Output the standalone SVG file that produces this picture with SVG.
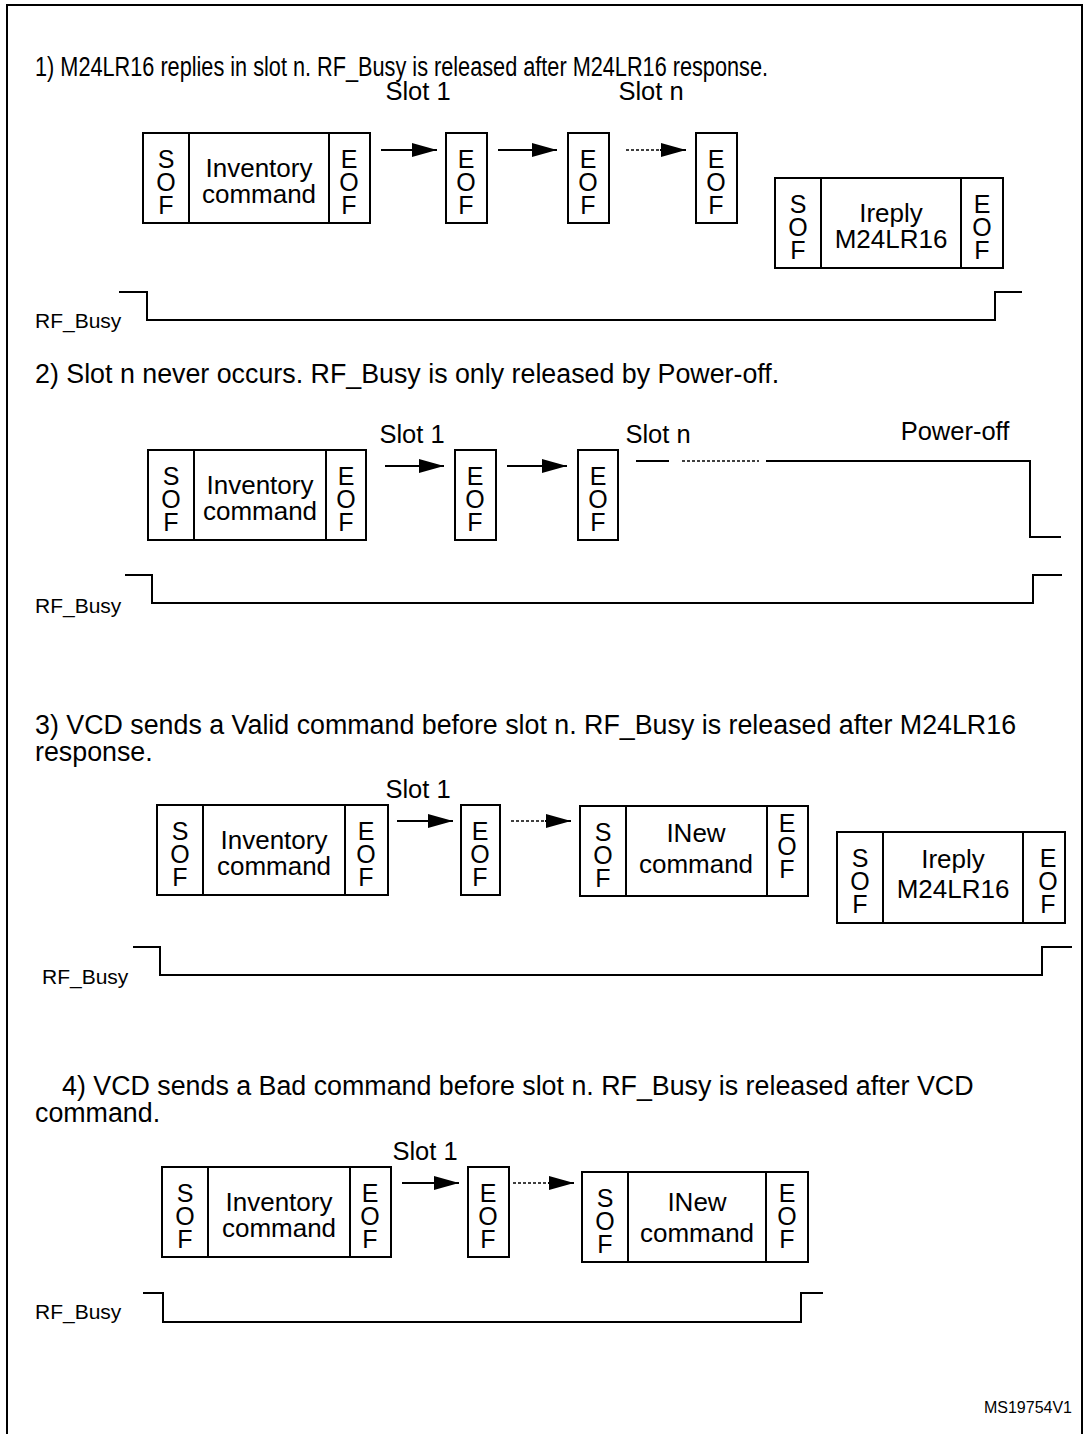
<svg xmlns="http://www.w3.org/2000/svg" width="1084" height="1434" viewBox="0 0 1084 1434">
<defs>
<style>
text{font-family:"Liberation Sans",Arial,sans-serif;fill:#000}
.h{font-size:26.8px}
.b{font-size:26px;text-anchor:middle}
.v{font-size:25px;text-anchor:middle}
.l{font-size:25.5px;text-anchor:middle}
.rf{font-size:21px}
.ln{fill:none;stroke:#000;stroke-width:2}
.dot{fill:none;stroke:#000;stroke-width:1.6;stroke-dasharray:3 2}
</style>
<marker id="ah" viewBox="0 0 25 14" refX="25" refY="7" markerWidth="25" markerHeight="14" markerUnits="userSpaceOnUse" orient="auto"><path d="M0,0 L25,7 L0,14 z" fill="#000"/></marker>
</defs>
<rect width="1084" height="1434" fill="#fff"/>
<g id="frame" class="ln"><path d="M7,1434 V5 H1082 V1434"/></g>

<!-- Section 1 -->
<text class="h" x="35" y="76" textLength="733" lengthAdjust="spacingAndGlyphs">1) M24LR16 replies in slot n. RF_Busy is released after M24LR16 response.</text>
<text class="l" x="418" y="100">Slot 1</text>
<text class="l" x="651" y="100">Slot n</text>
<g id="s1-inv">
<rect class="ln" x="143" y="133" width="227" height="90"/>
<path class="ln" d="M189,133 V223 M329,133 V223"/>
<text class="v"><tspan x="166" y="168">S</tspan><tspan x="166" dy="23">O</tspan><tspan x="166" dy="23">F</tspan></text>
<text class="b"><tspan x="259" y="177">Inventory</tspan><tspan x="259" dy="26">command</tspan></text>
<text class="v"><tspan x="349" y="168">E</tspan><tspan x="349" dy="23">O</tspan><tspan x="349" dy="23">F</tspan></text>
</g>
<g id="s1-eof1"><rect class="ln" x="446" y="133" width="41" height="90"/>
<text class="v"><tspan x="466" y="168">E</tspan><tspan x="466" dy="23">O</tspan><tspan x="466" dy="23">F</tspan></text></g>
<g id="s1-eof2"><rect class="ln" x="568" y="133" width="41" height="90"/>
<text class="v"><tspan x="588" y="168">E</tspan><tspan x="588" dy="23">O</tspan><tspan x="588" dy="23">F</tspan></text></g>
<g id="s1-eof3"><rect class="ln" x="696" y="133" width="41" height="90"/>
<text class="v"><tspan x="716" y="168">E</tspan><tspan x="716" dy="23">O</tspan><tspan x="716" dy="23">F</tspan></text></g>
<g id="s1-ireply">
<rect class="ln" x="775" y="178" width="228" height="90"/>
<path class="ln" d="M821,178 V268 M961,178 V268"/>
<text class="v"><tspan x="798" y="213">S</tspan><tspan x="798" dy="23">O</tspan><tspan x="798" dy="23">F</tspan></text>
<text class="b"><tspan x="891" y="222">Ireply</tspan><tspan x="891" dy="26">M24LR16</tspan></text>
<text class="v"><tspan x="982" y="213">E</tspan><tspan x="982" dy="23">O</tspan><tspan x="982" dy="23">F</tspan></text>
</g>
<text class="rf" x="35" y="328">RF_Busy</text>

<!-- Section 2 -->
<text class="h" x="35" y="383">2) Slot n never occurs. RF_Busy is only released by Power-off.</text>
<text class="l" x="412" y="443">Slot 1</text>
<text class="l" x="658" y="443">Slot n</text>
<text class="l" x="955" y="440">Power-off</text>
<g id="s2-inv">
<rect class="ln" x="148" y="450" width="218" height="90"/>
<path class="ln" d="M194,450 V540 M326,450 V540"/>
<text class="v"><tspan x="171" y="485">S</tspan><tspan x="171" dy="23">O</tspan><tspan x="171" dy="23">F</tspan></text>
<text class="b"><tspan x="260" y="494">Inventory</tspan><tspan x="260" dy="26">command</tspan></text>
<text class="v"><tspan x="346" y="485">E</tspan><tspan x="346" dy="23">O</tspan><tspan x="346" dy="23">F</tspan></text>
</g>
<g id="s2-eof1"><rect class="ln" x="455" y="450" width="41" height="90"/>
<text class="v"><tspan x="475" y="485">E</tspan><tspan x="475" dy="23">O</tspan><tspan x="475" dy="23">F</tspan></text></g>
<g id="s2-eof2"><rect class="ln" x="578" y="450" width="40" height="90"/>
<text class="v"><tspan x="598" y="485">E</tspan><tspan x="598" dy="23">O</tspan><tspan x="598" dy="23">F</tspan></text></g>
<text class="rf" x="35" y="613">RF_Busy</text>

<!-- Section 3 -->
<text class="h"><tspan x="35" y="734">3) VCD sends a Valid command before slot n. RF_Busy is released after M24LR16</tspan><tspan x="35" dy="27">response.</tspan></text>
<text class="l" x="418" y="798">Slot 1</text>
<g id="s3-inv">
<rect class="ln" x="157" y="805" width="231" height="90"/>
<path class="ln" d="M203,805 V895 M345,805 V895"/>
<text class="v"><tspan x="180" y="840">S</tspan><tspan x="180" dy="23">O</tspan><tspan x="180" dy="23">F</tspan></text>
<text class="b"><tspan x="274" y="849">Inventory</tspan><tspan x="274" dy="26">command</tspan></text>
<text class="v"><tspan x="366" y="840">E</tspan><tspan x="366" dy="23">O</tspan><tspan x="366" dy="23">F</tspan></text>
</g>
<g id="s3-eof1"><rect class="ln" x="461" y="805" width="39" height="90"/>
<text class="v"><tspan x="480" y="840">E</tspan><tspan x="480" dy="23">O</tspan><tspan x="480" dy="23">F</tspan></text></g>
<g id="s3-inew">
<rect class="ln" x="580" y="806" width="228" height="90"/>
<path class="ln" d="M626,806 V896 M767,806 V896"/>
<text class="v"><tspan x="603" y="841">S</tspan><tspan x="603" dy="23">O</tspan><tspan x="603" dy="23">F</tspan></text>
<text class="b"><tspan x="696" y="842">INew</tspan><tspan x="696" dy="31">command</tspan></text>
<text class="v"><tspan x="787" y="832">E</tspan><tspan x="787" dy="23">O</tspan><tspan x="787" dy="23">F</tspan></text>
</g>
<g id="s3-ireply">
<rect class="ln" x="837" y="832" width="228" height="91"/>
<path class="ln" d="M883,832 V923 M1023,832 V923"/>
<text class="v"><tspan x="860" y="867">S</tspan><tspan x="860" dy="23">O</tspan><tspan x="860" dy="23">F</tspan></text>
<text class="b"><tspan x="953" y="868">Ireply</tspan><tspan x="953" dy="30">M24LR16</tspan></text>
<text class="v"><tspan x="1048" y="867">E</tspan><tspan x="1048" dy="23">O</tspan><tspan x="1048" dy="23">F</tspan></text>
</g>
<text class="rf" x="42" y="984">RF_Busy</text>

<!-- Section 4 -->
<text class="h"><tspan x="62" y="1095">4) VCD sends a Bad command before slot n. RF_Busy is released after VCD</tspan><tspan x="35" dy="27">command.</tspan></text>
<text class="l" x="425" y="1160">Slot 1</text>
<g id="s4-inv">
<rect class="ln" x="162" y="1167" width="229" height="90"/>
<path class="ln" d="M208,1167 V1257 M350,1167 V1257"/>
<text class="v"><tspan x="185" y="1202">S</tspan><tspan x="185" dy="23">O</tspan><tspan x="185" dy="23">F</tspan></text>
<text class="b"><tspan x="279" y="1211">Inventory</tspan><tspan x="279" dy="26">command</tspan></text>
<text class="v"><tspan x="370" y="1202">E</tspan><tspan x="370" dy="23">O</tspan><tspan x="370" dy="23">F</tspan></text>
</g>
<g id="s4-eof1"><rect class="ln" x="468" y="1167" width="41" height="90"/>
<text class="v"><tspan x="488" y="1202">E</tspan><tspan x="488" dy="23">O</tspan><tspan x="488" dy="23">F</tspan></text></g>
<g id="s4-inew">
<rect class="ln" x="582" y="1172" width="226" height="90"/>
<path class="ln" d="M628,1172 V1262 M766,1172 V1262"/>
<text class="v"><tspan x="605" y="1207">S</tspan><tspan x="605" dy="23">O</tspan><tspan x="605" dy="23">F</tspan></text>
<text class="b"><tspan x="697" y="1211">INew</tspan><tspan x="697" dy="31">command</tspan></text>
<text class="v"><tspan x="787" y="1202">E</tspan><tspan x="787" dy="23">O</tspan><tspan x="787" dy="23">F</tspan></text>
</g>
<text class="rf" x="35" y="1319">RF_Busy</text>
<text x="1072" y="1413" font-size="16" text-anchor="end">MS19754V1</text>

<g id="connectors">
<path class="ln" d="M381,150 H437" marker-end="url(#ah)"/>
<path class="ln" d="M498,150 H557" marker-end="url(#ah)"/>
<path class="dot" d="M626,150 H662"/><path class="ln" d="M660,150 H686" marker-end="url(#ah)"/>
<path class="ln" d="M119,292 H147 V320 H995 V292 H1022"/>

<path class="ln" d="M385,466 H444" marker-end="url(#ah)"/>
<path class="ln" d="M507,466 H567" marker-end="url(#ah)"/>
<path class="ln" d="M636,461 H669"/>
<path class="dot" d="M682,461 H759"/>
<path class="ln" d="M766,461 H1030 V537 H1061"/>
<path class="ln" d="M125,575 H152 V603 H1033 V575 H1062"/>

<path class="ln" d="M397,821 H453" marker-end="url(#ah)"/>
<path class="dot" d="M511,821 H547"/><path class="ln" d="M545,821 H571" marker-end="url(#ah)"/>
<path class="ln" d="M133,947 H160 V975 H1042 V947 H1072"/>

<path class="ln" d="M402,1183 H459" marker-end="url(#ah)"/>
<path class="dot" d="M513,1183 H550"/><path class="ln" d="M548,1183 H574" marker-end="url(#ah)"/>
<path class="ln" d="M143,1293 H163 V1322 H801 V1293 H823"/>
</g>
</svg>
